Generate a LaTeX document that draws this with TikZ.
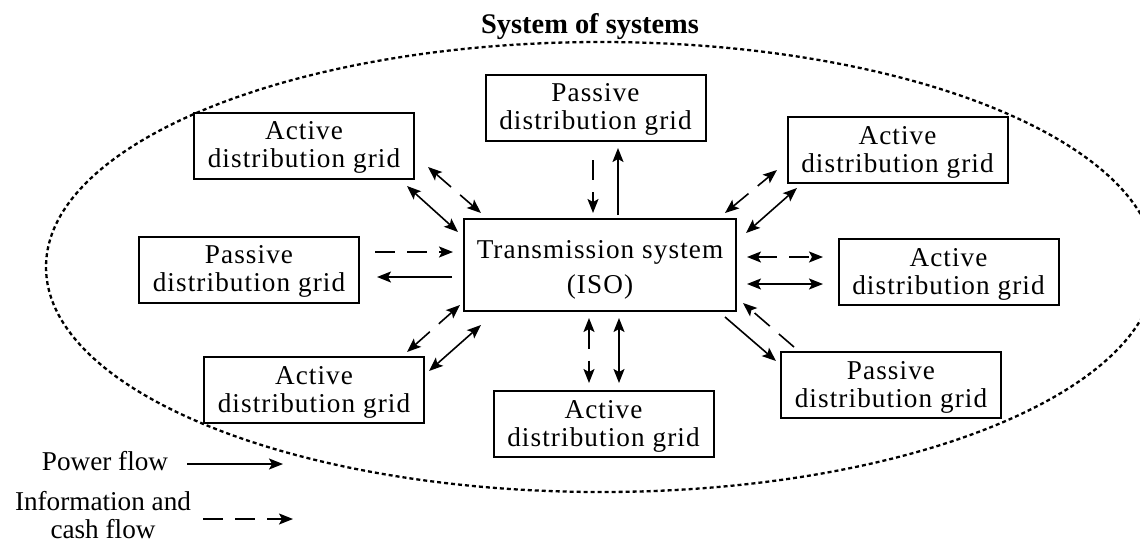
\documentclass[tikz,border=0pt]{standalone}
\usepackage{fontspec}
\setmainfont{Liberation Serif}
\newfontfamily\boxserif[LetterSpace=4]{Liberation Serif}
\usetikzlibrary{arrows.meta}

% first-line struts that set the text a little lower in the boxes
\newcommand{\gridtop}{\rule{0pt}{11pt}}
\newcommand{\isotop}{\rule{0pt}{14pt}}

\tikzset{
  gridbox/.style={draw, line width=1pt, minimum width=110pt, minimum height=33pt,
    inner sep=0pt, align=center, font=\boxserif\fontsize{13.6}{14}\selectfont},
  isobox/.style={gridbox, minimum width=136pt, minimum height=46pt,
    font=\boxserif\fontsize{13.6}{17.5}\selectfont},
  flow/.style={line width=0.8pt, >={Stealth[length=7pt,width=5.5pt,inset=1.5pt]}},
  power/.style={flow},
  info/.style={flow, dash pattern=on 10pt off 6pt},
  legendtext/.style={align=center, inner sep=0pt, font=\fontsize{13.6}{14}\selectfont},
  boundary/.style={line width=1.15pt, dash pattern=on 2pt off 1.5pt}
}

\begin{document}
\begin{tikzpicture}[x=0.5pt,y=-0.5pt]
  \useasboundingbox (0,0) rectangle (1140,543);

  % dotted outline of the system of systems
  \begin{scope}
    \clip (0,0) rectangle (1140,543);
    \draw[boundary] (601,267) ellipse [x radius=277.5pt, y radius=112.5pt];
  \end{scope}
  \node[anchor=base, inner sep=0pt, font=\bfseries\fontsize{14.2}{16}\selectfont] (title) at (590,33) {System of systems};

  % grids around the transmission system
  \node[isobox] (iso) at (600,265) {\isotop Transmission system\\(ISO)};
  \node[gridbox] (atl) at (304,145.5) {\gridtop Active\\distribution grid};
  \node[gridbox] (ptop) at (595.5,107.5) {\gridtop Passive\\distribution grid};
  \node[gridbox] (atr) at (897.5,150) {\gridtop Active\\distribution grid};
  \node[gridbox] (pleft) at (249,269.5) {\gridtop Passive\\distribution grid};
  \node[gridbox] (aright) at (948.5,272) {\gridtop Active\\distribution grid};
  \node[gridbox] (pbr) at (891,385) {\gridtop Passive\\distribution grid};
  \node[gridbox] (abl) at (314,390) {\gridtop Active\\distribution grid};
  \node[gridbox] (abot) at (603.5,424) {\gridtop Active\\distribution grid};

  % end points of the flows
  \coordinate (atlI1) at (428,167);  \coordinate (atlI2) at (481,213);
  \coordinate (atlP1) at (407,186);  \coordinate (atlP2) at (458,232);
  \coordinate (ptI1) at (593,160);   \coordinate (ptI2) at (593,213);
  \coordinate (ptP1) at (618,215);   \coordinate (ptP2) at (618,148);
  \coordinate (plI1) at (375,252);   \coordinate (plI2) at (453,252);
  \coordinate (plP1) at (452,277);   \coordinate (plP2) at (377,277);
  \coordinate (atrI1) at (725,213);  \coordinate (atrI2) at (777,170);
  \coordinate (atrP1) at (746,233);  \coordinate (atrP2) at (797,188);
  \coordinate (arI1) at (747,257);   \coordinate (arI2) at (823,257);
  \coordinate (arP1) at (747,284);   \coordinate (arP2) at (823,284);
  \coordinate (pbrP1) at (725,317);  \coordinate (pbrP2) at (776,361);
  \coordinate (pbrI1) at (794,347);  \coordinate (pbrI2) at (743,303);
  \coordinate (ablI1) at (407,352);  \coordinate (ablI2) at (460,305);
  \coordinate (ablP1) at (429,371);  \coordinate (ablP2) at (481,325);
  \coordinate (abI1) at (589,318);   \coordinate (abI2) at (589,383);
  \coordinate (abP1) at (619,318);   \coordinate (abP2) at (619,383);

  % information and cash flow (dashed), power flow (solid)
  \draw[info,<->] (atlI1) -- (atlI2);
  \draw[power,<->] (atlP1) -- (atlP2);
  \draw[info,->] (ptI1) -- (ptI2);
  \draw[power,->] (ptP1) -- (ptP2);
  \draw[info,->] (plI1) -- (plI2);
  \draw[power,->] (plP1) -- (plP2);
  \draw[info,<->] (atrI1) -- (atrI2);
  \draw[power,<->] (atrP1) -- (atrP2);
  \draw[info,<->] (arI1) -- (arI2);
  \draw[power,<->] (arP1) -- (arP2);
  \draw[power,->] (pbrP1) -- (pbrP2);
  \draw[info,->] (pbrI1) -- (pbrI2);
  \draw[info,<->] (ablI1) -- (ablI2);
  \draw[power,<->] (ablP1) -- (ablP2);
  \draw[info,<->] (abI1) -- (abI2);
  \draw[power,<->] (abP1) -- (abP2);

  % legend
  \node[legendtext, anchor=base] (powerlbl) at (105,470) {Power flow};
  \coordinate (powA) at (187,464); \coordinate (powB) at (283,464);
  \draw[power,->] (powA) -- (powB);
  \node[legendtext] (infolbl) at (103,515) {Information and\\cash flow};
  \coordinate (infA) at (203,519); \coordinate (infB) at (293,519);
  \draw[info,->] (infA) -- (infB);
\end{tikzpicture}
\end{document}
